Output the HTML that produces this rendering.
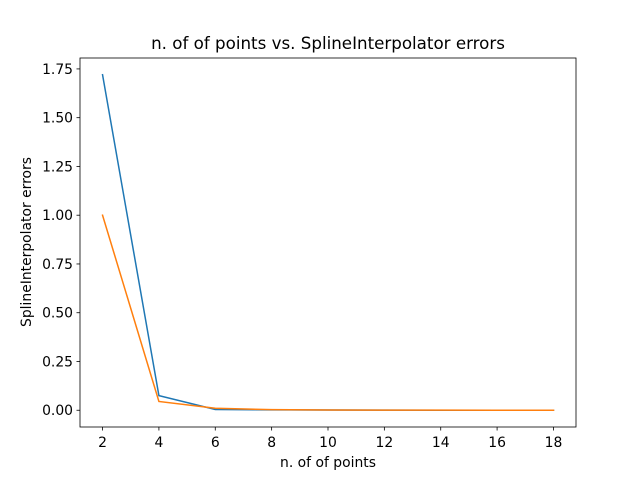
<!DOCTYPE html>
<html><head><meta charset="utf-8"><style>
body{margin:0;background:#fff}
svg{display:block;font-family:"DejaVu Sans","Liberation Sans",sans-serif}
</style></head><body>
<svg id="chart" width="640" height="480" viewBox="0 0 640 480">
<rect width="640" height="480" fill="#fff"/>
<text x="328" y="49" text-anchor="middle" font-size="16.7">n. of of points vs. SplineInterpolator errors</text>
<text x="328" y="467" text-anchor="middle" font-size="13.9">n. of of points</text>
<text x="31" y="242" text-anchor="middle" font-size="13.9" transform="rotate(-90 31 242)">SplineInterpolator errors</text>
</svg>
<script>
const xValues=[2,4,6,8,10,12,14,16,18];
const blueValues=[1.72,0.075,0.004,0.002,0.001,0.0005,0.0003,0.0002,0.0001];
const orangeValues=[1.0,0.045,0.01,0.003,0.0015,0.0008,0.0005,0.0003,0.0002];
const xTicks=[2,4,6,8,10,12,14,16,18];
const yTicks=[0,0.25,0.5,0.75,1.0,1.25,1.5,1.75];
const yTickLabels=["0.00","0.25","0.50","0.75","1.00","1.25","1.50","1.75"];

const L=80,R=576,T=58,B=427;
const allY=blueValues.concat(orangeValues);
const ymaxD=Math.max(...allY),yminD=Math.min(...allY);
const yr=ymaxD-yminD;
const y0=yminD-0.05*yr,y1=ymaxD+0.05*yr;
const xr=xValues[xValues.length-1]-xValues[0];
const x0=xValues[0]-0.05*xr,x1=xValues[xValues.length-1]+0.05*xr;
const sx=v=>L+(v-x0)/(x1-x0)*(R-L);
const sy=v=>B-(v-y0)/(y1-y0)*(B-T);
const svg=document.getElementById('chart');
const NS='http://www.w3.org/2000/svg';
function mk(tag,attrs,parent){const e=document.createElementNS(NS,tag);for(const k in attrs)e.setAttribute(k,attrs[k]);(parent||svg).appendChild(e);return e;}

[[blueValues,'#1f77b4','blue-series-line'],[orangeValues,'#ff7f0e','orange-series-line']].forEach(([vals,c,n])=>{
  const p=mk('polyline',{points:vals.map((v,i)=>sx(xValues[i])+','+sy(v)).join(' '),fill:'none',stroke:c,'stroke-width':1.5,'stroke-linecap':'square'});
  
  
});

const frame=mk('rect',{x:L,y:T,width:R-L,height:B-T,fill:'none',stroke:'#000','stroke-width':0.8});



xTicks.forEach(t=>{
  const x=sx(t);
  mk('line',{x1:x,x2:x,y1:B,y2:B+3.5,stroke:'#000','stroke-width':0.8});
  const tx=mk('text',{x:x,y:B+20,'text-anchor':'middle','font-size':13.9});
  tx.textContent=t;
  
  
});
yTicks.forEach((t,i)=>{
  const y=sy(t);
  mk('line',{x1:L-3.5,x2:L,y1:y,y2:y,stroke:'#000','stroke-width':0.8});
  const tx=mk('text',{x:L-7,y:y+5,'text-anchor':'end','font-size':13.9});
  tx.textContent=yTickLabels[i];
  
  
});
</script>
</body></html>
